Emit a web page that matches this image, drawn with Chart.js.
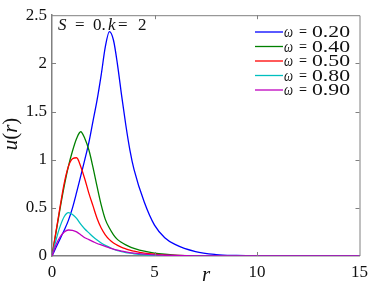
<!DOCTYPE html>
<html>
<head>
<meta charset="UTF-8">
<title>u(r)</title>
<script src="https://cdn.jsdelivr.net/npm/chart.js"></script>
<style>
  body { margin: 0; background: #fff; }
  #caixa { width: 374px; height: 290px; }
</style>
</head>
<body>
<div id="caixa"><canvas id="grafico" width="374" height="290"></canvas></div>
<script>
// valores
var rVals = [0, 0.2, 0.4, 0.6, 0.8, 1.0, 1.2, 1.4, 1.6, 1.8, 2.0, 2.2, 2.4, 2.6, 2.8, 3.0, 3.2, 3.4, 3.6, 3.8, 4.0, 4.5, 5, 5.5, 6, 7, 8, 9, 10, 12, 15];
var u020 = [0, 0.09, 0.18, 0.27, 0.37, 0.50, 0.66, 0.83, 1.00, 1.18, 1.40, 1.62, 1.88, 2.17, 2.33, 2.24, 1.98, 1.66, 1.36, 1.10, 0.90, 0.56, 0.32, 0.19, 0.12, 0.045, 0.015, 0.005, 0.001, 0, 0];
var u040 = [0, 0.25, 0.50, 0.73, 0.93, 1.09, 1.22, 1.29, 1.22, 1.10, 0.92, 0.72, 0.53, 0.38, 0.29, 0.22, 0.17, 0.14, 0.115, 0.095, 0.08, 0.05, 0.03, 0.018, 0.01, 0.004, 0.001, 0, 0, 0, 0];
var u050 = [0, 0.26, 0.52, 0.76, 0.93, 1.01, 1.02, 0.93, 0.80, 0.65, 0.52, 0.39, 0.29, 0.22, 0.17, 0.135, 0.11, 0.09, 0.075, 0.06, 0.05, 0.03, 0.018, 0.01, 0.006, 0.002, 0.001, 0, 0, 0, 0];
var u080 = [0, 0.17, 0.31, 0.41, 0.45, 0.43, 0.39, 0.33, 0.28, 0.24, 0.20, 0.165, 0.135, 0.11, 0.09, 0.07, 0.055, 0.045, 0.036, 0.029, 0.023, 0.013, 0.007, 0.004, 0.002, 0.001, 0, 0, 0, 0, 0];
var u090 = [0, 0.12, 0.20, 0.25, 0.27, 0.265, 0.25, 0.22, 0.19, 0.17, 0.15, 0.13, 0.115, 0.10, 0.085, 0.072, 0.06, 0.05, 0.042, 0.035, 0.03, 0.02, 0.012, 0.008, 0.005, 0.002, 0.001, 0, 0, 0, 0];
var omegas = ['0.20', '0.40', '0.50', '0.80', '0.90'];
var cores = ['#0000ff', '#008000', '#ff0000', '#00bfbf', '#bf00bf'];
var series = [u020, u040, u050, u080, u090];
var xTicks = [0, 5, 10, 15];
var yTicks = [0, 0.5, 1, 1.5, 2, 2.5];

var serif = "'Liberation Serif', 'Times New Roman', serif";
var cinza = '#808080';

function pares(u) {
    return rVals.map(function (r, i) { return { x: r, y: u[i] }; });
}

var datasets = series.map(function (u, i) {
    return {
        label: 'ω = ' + omegas[i],
        data: pares(u),
        borderColor: cores[i],
        borderWidth: 1.3,
        pointRadius: 0,
        fill: false,
        cubicInterpolationMode: 'monotone',
        order: series.length - i
    };
});

function texto(ctx, txt, x, y, fonte, larg) {
    ctx.font = fonte;
    if (larg) {
        var m = ctx.measureText(txt).width;
        ctx.save();
        ctx.translate(x, y);
        ctx.scale(larg / m, 1);
        ctx.fillText(txt, 0, 0);
        ctx.restore();
    } else {
        ctx.fillText(txt, x, y);
    }
}

var extras = {
    id: 'extras',
    afterDraw: function (chart) {
        var ctx = chart.ctx;
        var a = chart.chartArea;
        var sx = chart.scales.x, sy = chart.scales.y;
        ctx.save();

        // caixa superior/direita e ticks para dentro
        ctx.strokeStyle = cinza;
        ctx.lineWidth = 1;
        ctx.beginPath();
        ctx.moveTo(a.left, a.top + 0.5);
        ctx.lineTo(a.right + 0.5, a.top + 0.5);
        ctx.lineTo(a.right + 0.5, a.bottom);
        xTicks.forEach(function (v) {
            if (v === xTicks[0] || v === xTicks[xTicks.length - 1]) return;
            var px = Math.round(sx.getPixelForValue(v)) + 0.5;
            ctx.moveTo(px, a.bottom); ctx.lineTo(px, a.bottom - 4);
            ctx.moveTo(px, a.top); ctx.lineTo(px, a.top + 4);
        });
        yTicks.forEach(function (v) {
            if (v === yTicks[0] || v === yTicks[yTicks.length - 1]) return;
            var py = Math.round(sy.getPixelForValue(v)) + 0.5;
            ctx.moveTo(a.left, py); ctx.lineTo(a.left + 4, py);
            ctx.moveTo(a.right, py); ctx.lineTo(a.right - 4, py);
        });
        ctx.stroke();

        // legenda
        ctx.fillStyle = '#111';
        ctx.textAlign = 'left';
        ctx.textBaseline = 'alphabetic';
        var y0 = 32, passo = 14.5;
        chart.data.datasets.forEach(function (d, i) {
            var y = y0 + i * passo;
            ctx.strokeStyle = d.borderColor;
            ctx.lineWidth = 1.3;
            ctx.beginPath();
            ctx.moveTo(255, y); ctx.lineTo(283, y);
            ctx.stroke();
            texto(ctx, 'ω', 284, y + 5, 'italic 16px ' + serif, 9);
            texto(ctx, '=', 299, y + 5, '17px ' + serif, 8);
            texto(ctx, omegas[i], 312, y + 5, '17px ' + serif, 38);
        });

        // anotacao
        var b = 30;
        texto(ctx, 'S', 58, b, 'italic 17px ' + serif);
        texto(ctx, '=', 75, b, '17px ' + serif);
        texto(ctx, '0.', 93, b, '17px ' + serif);
        texto(ctx, 'k', 108, b, 'italic 17px ' + serif);
        texto(ctx, '=', 118, b, '17px ' + serif);
        texto(ctx, '2', 138, b, '17px ' + serif);

        // titulos dos eixos
        texto(ctx, 'r', 202, 281, 'italic 21px ' + serif);

        ctx.save();
        ctx.translate(17, 134);
        ctx.rotate(-Math.PI / 2);
        var partes = [['u', 'italic'], ['(', ''], ['r', 'italic'], [')', '']];
        var total = 0;
        partes.forEach(function (p) {
            ctx.font = (p[1] ? p[1] + ' ' : '') + '21px ' + serif;
            total += ctx.measureText(p[0]).width;
        });
        var x = -total / 2;
        partes.forEach(function (p) {
            ctx.font = (p[1] ? p[1] + ' ' : '') + '21px ' + serif;
            ctx.fillText(p[0], x, 0);
            x += ctx.measureText(p[0]).width;
        });
        ctx.restore();

        ctx.restore();
    }
};

new Chart(document.getElementById('grafico'), {
    type: 'line',
    data: { datasets: datasets },
    options: {
        responsive: false,
        animation: false,
        layout: { padding: { top: 13, right: 12, left: 0, bottom: 0 } },
        plugins: { legend: { display: false }, tooltip: { enabled: false } },
        scales: {
            x: {
                type: 'linear',
                min: 0,
                max: 15,
                afterBuildTicks: function (s) { s.ticks = xTicks.map(function (v) { return { value: v }; }); },
                afterFit: function (s) { s.height = 34; },
                ticks: {
                    padding: 6,
                    maxRotation: 0,
                    color: '#111',
                    font: { family: serif, size: 17 },
                    callback: function (v) { return String(v); }
                },
                grid: { drawOnChartArea: false, drawTicks: false },
                border: { color: cinza, width: 1.5 }
            },
            y: {
                min: 0,
                max: 2.5,
                afterBuildTicks: function (s) { s.ticks = yTicks.map(function (v) { return { value: v }; }); },
                afterFit: function (s) { s.width = 52; },
                ticks: {
                    padding: 5,
                    color: '#111',
                    font: { family: serif, size: 17 },
                    callback: function (v) { return String(v); }
                },
                grid: { drawOnChartArea: false, drawTicks: false },
                border: { color: cinza, width: 1.5 }
            }
        }
    },
    plugins: [extras]
});
</script>
</body>
</html>
